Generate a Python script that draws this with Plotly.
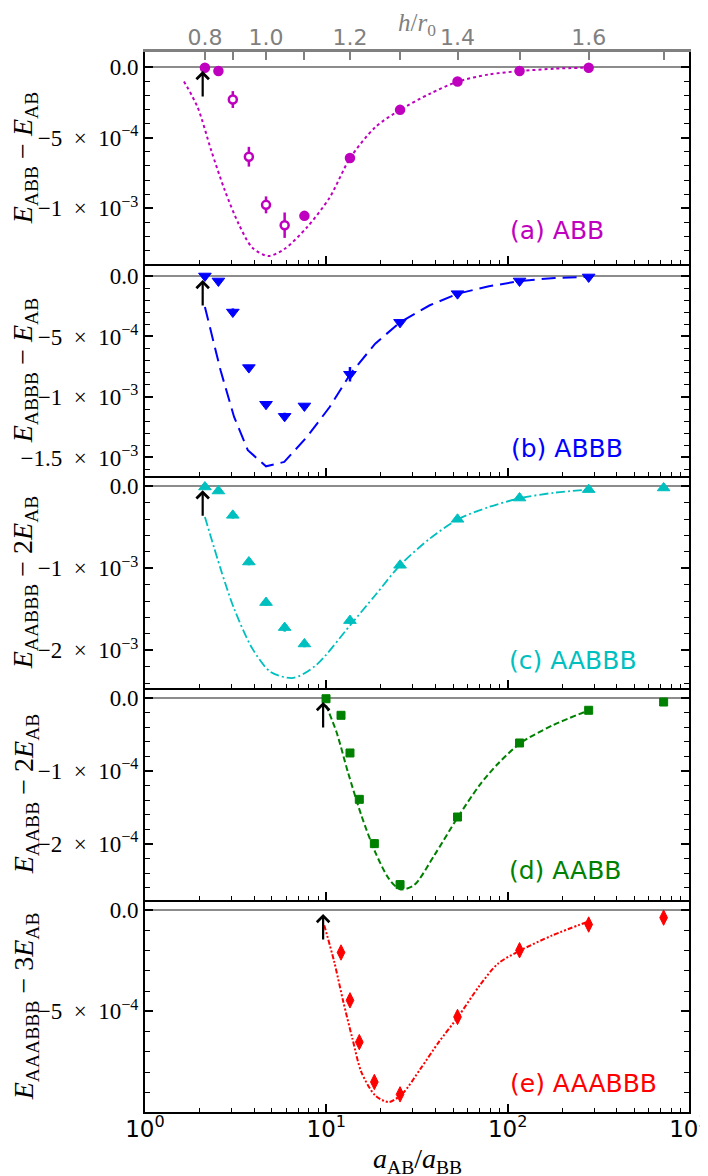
import numpy as np
import plotly.graph_objects as go
from plotly.subplots import make_subplots

# ---------------- data ----------------
# top axis: h/r0 ticks and their positions on the a_AB/a_BB scale
h_ticks = [0.8, 0.9, 1.0, 1.1, 1.2, 1.3, 1.4, 1.5, 1.6, 1.7]
h_tick_a = [2.14, 3.05, 4.65, 7.57, 13.5, 25.5, 52.9, 116.3, 279.7, 724.6]
h_tick_labels = ["0.8", "", "1.0", "", "1.2", "", "1.4", "", "1.6", ""]

# x positions of the data points (a_AB/a_BB)
x_abc = [2.14, 2.54, 3.05, 3.74, 4.65, 5.89, 7.57, 13.5, 25.5, 52.9, 116.3, 279.7, 724.6]
x_de = [9.96, 12.05, 13.5, 15.2, 18.4, 25.5, 52.9, 116.3, 279.7, 724.6]

# (a) ABB
ya = [-5e-6, -2.8e-5, -2.3e-4, -6.35e-4, -9.76e-4, -1.12e-3, -1.054e-3, -6.44e-4, -3.03e-4, -1.02e-4, -2.8e-5, -5e-6]
ya_err = [1.2e-5, 1.2e-5, 6e-5, 7e-5, 6e-5, 9e-5, 2e-5, 1.5e-5, 1.2e-5, 1e-5, 1e-5, 1e-5]
ya_hollow = [False, False, True, True, True, True, False, False, False, False, False, False]
ca_x = [1.64, 1.95, 2.32, 2.76, 3.29, 3.91, 4.78, 5.86, 7.82, 10.43, 13.53, 18.6, 25.5, 37.2, 53.2, 78.8, 118, 182, 281]
ca_y = [-1.02e-4, -2.84e-4, -5.92e-4, -8.76e-4, -1.113e-3, -1.28e-3, -1.338e-3, -1.29e-3, -1.135e-3, -9.24e-4,
        -6.44e-4, -4.26e-4, -3.03e-4, -1.89e-4, -1.02e-4, -5.2e-5, -2.8e-5, -1.1e-5, -4e-6]

# (b) ABBB
yb = [0.0, -4.1e-5, -2.98e-4, -7.57e-4, -1.06e-3, -1.16e-3, -1.074e-3, -8.12e-4, -3.83e-4, -1.46e-4, -4.1e-5, -8e-6]
yb_err = [1.5e-5, 1.5e-5, 3e-5, 2e-5, 2e-5, 3e-5, 2e-5, 6e-5, 2e-5, 1.5e-5, 1.5e-5, 1e-5]
cb_x = [2.14, 2.61, 3.10, 3.69, 4.65, 5.86, 7.82, 10.43, 13.53, 18.6, 25.5, 37.2, 53.2, 78.8, 118, 182, 281]
cb_y = [-2.56e-4, -7.8e-4, -1.165e-3, -1.44e-3, -1.573e-3, -1.537e-3, -1.33e-3, -1.083e-3, -8.12e-4,
        -5.59e-4, -3.83e-4, -2.42e-4, -1.46e-4, -8.5e-5, -4.1e-5, -1.6e-5, -8e-6]

# (c) AABBB
yc = [-8e-6, -5.7e-5, -3.54e-4, -9.23e-4, -1.418e-3, -1.723e-3, -1.923e-3, -1.638e-3, -9.63e-4, -4.02e-4, -1.43e-4, -4e-5, -2e-5]
yc_err = [3e-5, 3e-5, 4e-5, 4e-5, 4e-5, 5e-5, 4e-5, 4e-5, 3e-5, 3e-5, 3e-5, 3e-5, 3e-5]
cc_x = [2.14, 2.61, 3.10, 3.91, 4.93, 6.57, 8.77, 13.53, 18.6, 25.5, 37.2, 53.2, 78.8, 118, 182, 281]
cc_y = [-3.74e-4, -1.004e-3, -1.492e-3, -1.98e-3, -2.264e-3, -2.337e-3, -2.183e-3, -1.695e-3, -1.329e-3,
        -9.63e-4, -6.38e-4, -4.02e-4, -2.52e-4, -1.43e-4, -7.7e-5, -4e-5]

# (d) AABB
yd = [-1e-6, -2.37e-5, -7.53e-5, -1.388e-4, -1.995e-4, -2.556e-4, -1.63e-4, -6.16e-5, -1.68e-5, -5.5e-6]
yd_err = [4e-6, 5e-6, 5e-6, 5e-6, 6e-6, 6e-6, 5e-6, 3e-6, 3e-6, 3e-6]
cd_x = [9.96, 11.38, 13.15, 15.6, 18.6, 22.1, 25.5, 30.4, 39.4, 53.2, 70.2, 88.4, 118, 177, 281]
cd_y = [-1e-5, -4.66e-5, -1.014e-4, -1.607e-4, -2.11e-4, -2.474e-4, -2.62e-4, -2.566e-4, -2.155e-4,
        -1.63e-4, -1.19e-4, -9.0e-5, -6.16e-5, -3.74e-5, -1.68e-5]

# (e) AAABBB
ye = [-2.1e-4, -4.46e-4, -6.52e-4, -8.49e-4, -9.1e-4, -5.28e-4, -1.99e-4, -7.2e-5, -3.8e-5]
ye_err = [1.5e-5, 1.5e-5, 1.5e-5, 1.5e-5, 1.5e-5, 1.5e-5, 1.2e-5, 1e-5, 1e-5]
ce_x = [9.74, 11.06, 12.41, 13.93, 15.6, 18.6, 22.1, 26.3, 33.1, 41.7, 53.2, 70.2, 88.4, 118, 177, 281]
ce_y = [-7.55e-5, -2.57e-4, -4.54e-4, -6.35e-4, -8.0e-4, -9.15e-4, -9.48e-4, -9.06e-4, -7.83e-4,
        -6.52e-4, -5.28e-4, -3.72e-4, -2.65e-4, -1.99e-4, -1.25e-4, -5.6e-5]

arrow_x = [2.08, 2.08, 2.08, 9.6, 9.6]

panel_labels = ["(a) ABB", "(b) ABBB", "(c) AABBB", "(d) AABB", "(e) AAABBB"]
y_titles = [
    "<i>E</i><sub>ABB</sub> − <i>E</i><sub>AB</sub>",
    "<i>E</i><sub>ABBB</sub> − <i>E</i><sub>AB</sub>",
    "<i>E</i><sub>AABBB</sub> − 2<i>E</i><sub>AB</sub>",
    "<i>E</i><sub>AABB</sub> − 2<i>E</i><sub>AB</sub>",
    "<i>E</i><sub>AAABBB</sub> − 3<i>E</i><sub>AB</sub>",
]
S = "\u2002"
y_tickvals = [
    [0, -5e-4, -1e-3],
    [0, -5e-4, -1e-3, -1.5e-3],
    [0, -1e-3, -2e-3],
    [0, -1e-4, -2e-4],
    [0, -5e-4],
]
y_ticktext = [
    ["0.0", f"−5{S}×{S}10<sup>−4</sup>", f"−1{S}×{S}10<sup>−3</sup>"],
    ["0.0", f"−5{S}×{S}10<sup>−4</sup>", f"−1{S}×{S}10<sup>−3</sup>", f"−1.5{S}×{S}10<sup>−3</sup>"],
    ["0.0", f"−1{S}×{S}10<sup>−3</sup>", f"−2{S}×{S}10<sup>−3</sup>"],
    ["0.0", f"−1{S}×{S}10<sup>−4</sup>", f"−2{S}×{S}10<sup>−4</sup>"],
    ["0.0", f"−5{S}×{S}10<sup>−4</sup>"],
]
y_ranges = [
    [-1.395e-3, 1.07e-4],
    [-1.653e-3, 0.99e-4],
    [-2.46e-3, 1.26e-4],
    [-2.767e-4, 1.37e-5],
    [-9.97e-4, 4.9e-5],
]
y_minor = [1e-4, 1e-4, 2e-4, 2e-5, 1e-4]

x_tickvals = [1, 10, 100, 1000]
x_ticktext = ["10<sup>0</sup>", "10<sup>1</sup>", "10<sup>2</sup>", "10<sup>3</sup>"]
x_minor = [m * d for d in [1, 10, 100] for m in range(2, 10)]

# ---------------- styling ----------------
MAG, BLU, CYA, GRN, RED = "#bf00bf", "#0000ff", "#00bfbf", "#008000", "#ff0000"
colors = [MAG, BLU, CYA, GRN, RED]
SERIF = "Liberation Serif, DejaVu Serif, serif"
SANS = "DejaVu Sans, sans-serif"

fig = make_subplots(rows=5, cols=1, shared_xaxes=True, vertical_spacing=0)

def err(vals, color):
    return dict(type="data", array=vals, visible=True, thickness=2.5, width=0, color=color)

# curves
fig.add_trace(go.Scatter(x=ca_x, y=ca_y, mode="lines", line=dict(color=MAG, width=2, dash="dot", shape="spline", smoothing=0.8),
                         showlegend=False), row=1, col=1)
fig.add_trace(go.Scatter(x=cb_x, y=cb_y, mode="lines", line=dict(color=BLU, width=2, dash="14px,7px"),
                         showlegend=False), row=2, col=1)
fig.add_trace(go.Scatter(x=cc_x, y=cc_y, mode="lines", line=dict(color=CYA, width=1.8, dash="9px,3px,2px,3px", shape="spline", smoothing=0.8),
                         showlegend=False), row=3, col=1)
fig.add_trace(go.Scatter(x=cd_x, y=cd_y, mode="lines", line=dict(color=GRN, width=2, dash="6px,3px", shape="spline", smoothing=0.8),
                         showlegend=False), row=4, col=1)
fig.add_trace(go.Scatter(x=ce_x, y=ce_y, mode="lines", line=dict(color=RED, width=2, dash="5px,2px,2px,2px,2px,2px", shape="spline", smoothing=0.8),
                         showlegend=False), row=5, col=1)

# points
fig.add_trace(go.Scatter(x=x_abc[:len(ya)], y=ya, mode="markers", error_y=err(ya_err, MAG),
                         marker=dict(symbol="circle", size=8, color=["white" if h else MAG for h in ya_hollow],
                                     line=dict(color=MAG, width=2.5)), showlegend=False), row=1, col=1)
fig.add_trace(go.Scatter(x=x_abc[:len(yb)], y=yb, mode="markers", error_y=err(yb_err, BLU),
                         marker=dict(symbol="triangle-down", size=11, color=BLU, line=dict(color=BLU, width=1)),
                         showlegend=False), row=2, col=1)
fig.add_trace(go.Scatter(x=x_abc[:len(yc)], y=yc, mode="markers", error_y=err(yc_err, CYA),
                         marker=dict(symbol="triangle-up", size=11, color=CYA, line=dict(color=CYA, width=1)),
                         showlegend=False), row=3, col=1)
fig.add_trace(go.Scatter(x=x_de, y=yd, mode="markers", error_y=err(yd_err, GRN),
                         marker=dict(symbol="square", size=8, color=GRN, line=dict(color=GRN, width=1)),
                         showlegend=False), row=4, col=1)
fig.add_trace(go.Scatter(x=x_de[1:], y=ye, mode="markers", error_y=err(ye_err, RED),
                         marker=dict(symbol="diamond-tall", size=11, color=RED, line=dict(color=RED, width=1)),
                         showlegend=False), row=5, col=1)

# axes
for i in range(5):
    n = "" if i == 0 else str(i + 1)
    fig.layout["xaxis" + n].update(
        type="log", range=[0, 3], showline=True, linecolor="black", linewidth=2,
        mirror=False, ticks="inside", ticklen=8, tickwidth=1.5, tickcolor="black",
        tickvals=x_tickvals, ticktext=x_ticktext, showticklabels=(i == 4), showgrid=False, zeroline=False,
        tickfont=dict(family=SANS, size=23, color="black"), automargin=False, ticklabelstandoff=-5,
        minor=dict(tickvals=x_minor, ticks="inside", ticklen=4, tickwidth=1.2, tickcolor="black", showgrid=False),
    )
    fig.layout["yaxis" + n].update(
        range=y_ranges[i], showline=True, linecolor="black", linewidth=2, mirror="ticks",
        ticks="inside", ticklen=8, tickwidth=1.5, tickcolor="black",
        tickvals=y_tickvals[i], ticktext=y_ticktext[i], showgrid=False, automargin=False,
        zeroline=True, zerolinecolor="#8c8c8c", zerolinewidth=1.6,
        tickfont=dict(family=SERIF, size=23, color="black"),
        minor=dict(dtick=y_minor[i], tick0=0, ticks="inside", ticklen=5, tickwidth=1.2, tickcolor="black", showgrid=False),
    )
    # y-axis titles
    fig.add_annotation(text=y_titles[i], xref="paper", yref=("y" + n + " domain"), x=-0.22, y=0.5,
                       xanchor="center", yanchor="middle", textangle=-90, showarrow=False,
                       font=dict(family=SERIF, size=28, color="black"))
    # panel labels
    fig.add_annotation(text=panel_labels[i], xref=("x" + n + " domain"), yref=("y" + n + " domain"),
                       x=[0.848, 0.883, 0.909, 0.881, 0.945][i], y=[0.159, 0.129, 0.131, 0.14, 0.134][i],
                       xanchor="right", yanchor="middle", showarrow=False,
                       font=dict(family=SANS, size=25, color=colors[i]))
    # arrows
    fig.add_annotation(x=np.log10(arrow_x[i]), y=0, xref="x" + n, yref="y" + n, text="",
                       showarrow=True, arrowhead=4, arrowsize=1.1, arrowwidth=2.2, arrowcolor="black",
                       ax=0, ay=31, standoff=4)

# bottom x-axis title
fig.add_annotation(text="<i>a</i><sub>AB</sub>/<i>a</i><sub>BB</sub>", xref="paper", yref="paper",
                   x=0.5, y=-0.046, xanchor="center", yanchor="middle", showarrow=False,
                   font=dict(family=SERIF, size=28, color="black"))
# top axis title
fig.add_annotation(text="<i>h</i>/<i>r</i><sub>0</sub>", xref="paper", yref="paper",
                   x=0.5, y=1.026, xanchor="center", yanchor="middle", showarrow=False,
                   font=dict(family=SERIF, size=25, color="#808080"))

# top axis h/r0
fig.update_layout(xaxis6=dict(
    overlaying="x", side="top", anchor="y", type="log", range=[0, 3], domain=[0, 1], automargin=False,
    tickvals=h_tick_a, ticktext=h_tick_labels, ticks="inside", ticklen=8, tickwidth=1.5, tickcolor="#808080",
    showline=True, linecolor="#808080", linewidth=2.5, showgrid=False, zeroline=False, ticklabelstandoff=-5,
    tickfont=dict(family=SANS, size=22, color="#808080"),
))
fig.add_trace(go.Scatter(x=h_tick_a, y=[None] * len(h_tick_a), xaxis="x6", yaxis="y", mode="markers",
                         showlegend=False, hoverinfo="skip"))

# the page adds an 8px body margin, so the margins are offset to compensate
fig.update_layout(
    width=708, height=1176,
    margin=dict(l=137, r=27.3, t=44, b=72.3, autoexpand=False),
    plot_bgcolor="white", paper_bgcolor="white",
    showlegend=False,
)

fig.write_html("out.html")
